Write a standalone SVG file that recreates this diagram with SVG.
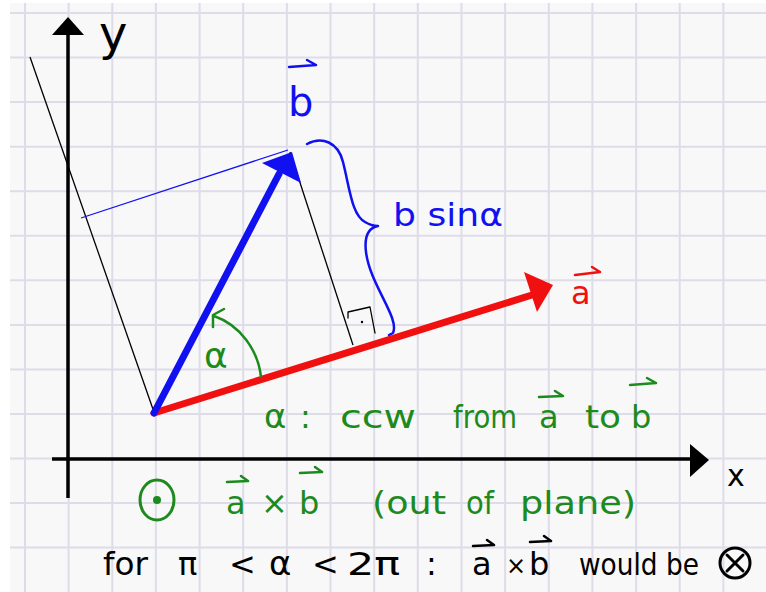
<svg xmlns="http://www.w3.org/2000/svg" width="766" height="592" viewBox="0 0 766 592">
<defs>
<style>
.grid{stroke:#dedce9;stroke-width:2;fill:none}
.ax{stroke:#000;stroke-width:3.5;fill:none}
.thin{stroke:#000;stroke-width:1.3;fill:none}
.hand{fill:none;stroke-linecap:round;stroke-linejoin:round}
.t{font-family:"DejaVu Sans","Liberation Sans",sans-serif}
.g{fill:#1d8a1d}
.gs{stroke:#1d8a1d}
.bl{fill:#1010f0}
.bs{stroke:#1010f0}
.rd{fill:#f01010}
.rs{stroke:#f01010}
.k{fill:#000}
.ks{stroke:#000}
</style>
</defs>
<rect width="766" height="592" fill="#ffffff"/>
<rect x="10" y="3" width="756" height="589" fill="#f8f8f8"/>
<g id="grid">
<path class="grid" d="M25,3V592 M68.6,3V592 M112.3,3V592 M155.9,3V592 M199.6,3V592 M243.2,3V592 M286.9,3V592 M330.5,3V592 M374.2,3V592 M417.8,3V592 M461.5,3V592 M505.1,3V592 M548.8,3V592 M592.4,3V592 M636.1,3V592 M679.7,3V592 M723.4,3V592"/>
<path class="grid" d="M10,13H766 M10,57.6H766 M10,102.1H766 M10,146.7H766 M10,191.2H766 M10,235.8H766 M10,280.3H766 M10,324.9H766 M10,369.4H766 M10,414H766 M10,458.5H766 M10,503.1H766 M10,547.6H766"/>
</g>
<g id="axes">
<line class="ax" x1="68" y1="30" x2="68" y2="498"/>
<polygon points="68,17 84,35 52,35" fill="#000"/>
<line class="ax" x1="52" y1="459" x2="695" y2="459"/>
<polygon points="709,460 690,444 690,477" fill="#000"/>
<text class="t k" x="99" y="50" font-size="48">y</text>
<text class="t k" x="727" y="486" font-size="30">x</text>
</g>
<g id="connectors">
<line class="thin" x1="30" y1="57" x2="155" y2="415"/>
<line class="thin" x1="290" y1="152" x2="353" y2="345"/>
<line x1="81" y1="218" x2="288" y2="150" stroke="#1010f0" stroke-width="1.3"/>
<path class="hand ks" stroke-width="1.3" d="M348,318 L348,312 L370,307 L375,333"/>
<circle cx="362" cy="322" r="1.2" fill="#000"/>
</g>
<g id="vector-a">
<line x1="154" y1="413" x2="532" y2="295" stroke="#f01010" stroke-width="7" stroke-linecap="round"/>
<polygon points="553,285 524,272 537,312" fill="#f01010"/>
<text class="t rd" x="571" y="304" font-size="32">a</text>
<path class="hand rs" stroke-width="2.5" d="M575,275 L600,272 M592,267 L600,272"/>
</g>
<g id="vector-b">
<line x1="154" y1="413" x2="279" y2="174" stroke="#1010f0" stroke-width="7" stroke-linecap="round"/>
<polygon points="292,152 262,163 301,183" fill="#1010f0"/>
<text class="t bl" x="288" y="116" font-size="40">b</text>
<path class="hand bs" stroke-width="2.5" d="M289,67 L316,65 M307,60 L316,65"/>
</g>
<g id="bsinalpha">
<path class="hand bs" stroke-width="2.5" d="M307,144 C322,136 338,142 343,162 C350,190 352,215 365,222 C370,225 375,226 378,226 C368,228 364,236 366,252 C370,285 400,318 393,333 L389,335"/>
<text class="t bl" x="393" y="226" font-size="32" textLength="110" lengthAdjust="spacingAndGlyphs">b sinα</text>
</g>
<g id="angle">
<path class="hand gs" stroke-width="2.5" d="M261,377 C258,350 240,325 214,316 M224,309 L213,315 L213,327"/>
<text class="t g" x="204" y="368" font-size="36">α</text>
</g>
<g id="line1">
<text class="t g" x="264" y="428" font-size="34">α</text>
<text class="t g" x="300" y="428" font-size="32">:</text>
<text class="t g" x="340" y="428" font-size="32" textLength="76" lengthAdjust="spacingAndGlyphs">ccw</text>
<text class="t g" x="453" y="428" font-size="32" textLength="64" lengthAdjust="spacingAndGlyphs">from</text>
<text class="t g" x="539" y="428" font-size="32">a</text>
<text class="t g" x="585" y="428" font-size="32" textLength="36" lengthAdjust="spacingAndGlyphs">to</text>
<text class="t g" x="631" y="428" font-size="32">b</text>
<path class="hand gs" stroke-width="2.5" d="M539,397 L563,396 M555,391 L563,396 M630,385 L656,383 M647,378 L656,383"/>
</g>
<g id="line2">
<ellipse cx="157" cy="500" rx="17" ry="20" fill="none" stroke="#1d8a1d" stroke-width="3"/>
<circle cx="157" cy="500" r="4" fill="#1d8a1d"/>
<text class="t g" x="226" y="514" font-size="32">a</text>
<text class="t g" x="261" y="514" font-size="32">×</text>
<text class="t g" x="299" y="514" font-size="32">b</text>
<path class="hand gs" stroke-width="2.5" d="M227,482 L248,481 M241,476 L248,481 M300,473 L322,472 M315,467 L322,472"/>
<text class="t g" x="372" y="514" font-size="32" textLength="74" lengthAdjust="spacingAndGlyphs">(out</text>
<text class="t g" x="466" y="514" font-size="32" textLength="28" lengthAdjust="spacingAndGlyphs">of</text>
<text class="t g" x="520" y="514" font-size="32" textLength="116" lengthAdjust="spacingAndGlyphs">plane)</text>
</g>
<g id="line3">
<text class="t k" x="103" y="575" font-size="32" textLength="45" lengthAdjust="spacingAndGlyphs">for</text>
<text class="t k" x="178" y="575" font-size="32">π</text>
<text class="t k" x="229" y="575" font-size="32">&lt;</text>
<text class="t k" x="269" y="575" font-size="34">α</text>
<text class="t k" x="312" y="575" font-size="32">&lt;</text>
<text class="t k" x="347" y="575" font-size="32" textLength="53" lengthAdjust="spacingAndGlyphs">2π</text>
<text class="t k" x="426" y="575" font-size="32">:</text>
<text class="t k" x="472" y="575" font-size="32">a</text>
<text class="t k" x="506" y="574" font-size="24">×</text>
<text class="t k" x="529" y="575" font-size="32">b</text>
<path class="hand ks" stroke-width="2.5" d="M473,546 L494,545 M487,540 L494,545 M530,542 L551,541 M544,536 L551,541"/>
<text class="t k" x="579" y="575" font-size="30" textLength="120" lengthAdjust="spacingAndGlyphs">would be</text>
<circle cx="735" cy="563" r="15" fill="none" stroke="#000" stroke-width="3"/>
<path class="hand ks" stroke-width="3" d="M727,555 L743,571 M743,555 L727,571"/>
</g>
</svg>
